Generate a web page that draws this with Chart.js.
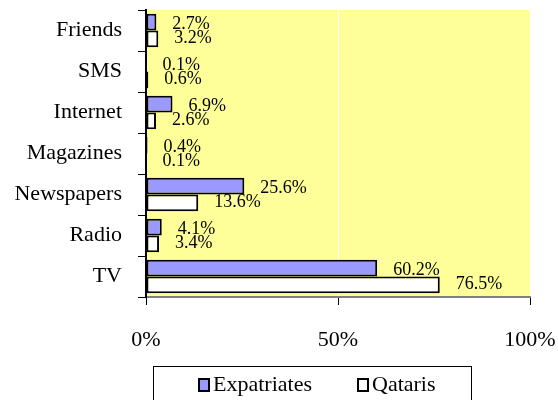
<!DOCTYPE html>
<html>
<head>
<meta charset="utf-8">
<script src="https://cdn.jsdelivr.net/npm/chart.js@4/dist/chart.umd.min.js"></script>
<style>
  body { margin: 0; background: #fff; overflow: hidden; }
  #wrap { position: relative; width: 558px; height: 400px; }
  #legend {
    position: absolute; left: 153px; top: 366px; width: 319px; height: 40px;
    border: 1px solid #000; box-sizing: border-box;
    font-family: "Liberation Serif", "Times New Roman", serif; font-size: 22px; color: #000;
  }
  #legend span.item { position: absolute; top: 4px; white-space: nowrap; }
  #legend span.box {
    display: inline-block; width: 8px; height: 10px; border: 2px solid #000;
    margin-right: 3px; vertical-align: -1px;
  }
</style>
</head>
<body>
<div id="wrap">
  <canvas id="myChart"></canvas>
  <div id="legend"></div>
</div>
<script>
var categories = ["Friends", "SMS", "Internet", "Magazines", "Newspapers", "Radio", "TV"];
var expatriates = [2.7, 0.1, 6.9, 0.4, 25.6, 4.1, 60.2];
var qataris = [3.2, 0.6, 2.6, 0.1, 13.6, 3.4, 76.5];
var xTicks = [0, 50, 100];

var seriesNames = ["Expatriates", "Qataris"];
var seriesColors = ["#9999FF", "#FFFFFF"];

var font = "'Liberation Serif', 'Times New Roman', serif";

// yellow plot area
var plotBg = {
  id: 'plotBg',
  beforeDraw: function(chart) {
    var a = chart.chartArea, ctx = chart.ctx;
    ctx.save();
    ctx.fillStyle = '#FFFF99';
    ctx.fillRect(a.left, a.top, a.right - a.left, a.bottom - a.top);
    ctx.restore();
  }
};

// value labels just past the end of each bar
var valueLabels = {
  id: 'valueLabels',
  afterDatasetsDraw: function(chart) {
    var ctx = chart.ctx;
    ctx.save();
    ctx.font = '18px ' + font;
    ctx.fillStyle = '#000';
    ctx.textAlign = 'left';
    ctx.textBaseline = 'middle';
    chart.data.datasets.forEach(function(ds, i) {
      var meta = chart.getDatasetMeta(i);
      var dy = i === 0 ? 2 : -1;
      meta.data.forEach(function(bar, j) {
        ctx.fillText(ds.data[j].toFixed(1) + '%', bar.x + 16, bar.y + dy);
      });
    });
    ctx.restore();
  }
};

var ctx = document.getElementById("myChart");
var myBarChart = new Chart(ctx, {
  type: 'bar',
  data: {
    labels: categories,
    datasets: [
      {
        label: seriesNames[0],
        data: expatriates,
        backgroundColor: seriesColors[0],
        borderColor: '#000',
        borderWidth: 2,
        borderSkipped: false
      },
      {
        label: seriesNames[1],
        data: qataris,
        backgroundColor: seriesColors[1],
        borderColor: '#000',
        borderWidth: 2,
        borderSkipped: false
      }
    ]
  },
  options: {
    indexAxis: 'y',
    responsive: true,
    maintainAspectRatio: false,
    animation: false,
    categoryPercentage: 0.82,
    barPercentage: 1,
    layout: { padding: { left: 0, top: 10, right: 28, bottom: 43 } },
    plugins: {
      legend: { display: false },
      tooltip: { enabled: false }
    },
    scales: {
      x: {
        min: xTicks[0],
        max: xTicks[xTicks.length - 1],
        afterBuildTicks: function(scale) {
          scale.ticks = xTicks.map(function(v) { return { value: v }; });
        },
        afterFit: function(scale) {
          scale.height = 60;
          scale.paddingLeft = 0;
          scale.paddingRight = 0;
        },
        ticks: {
          color: '#000',
          font: { family: font, size: 22 },
          padding: 22,
          maxRotation: 0,
          callback: function(v) { return v + '%'; }
        },
        grid: {
          color: function(c) { return c.tick && c.tick.value === 50 ? '#FFFFFF' : 'rgba(0,0,0,0)'; },
          tickColor: '#000',
          tickLength: 8,
          lineWidth: 1
        },
        border: { display: true, color: '#808080', width: 2 }
      },
      y: {
        afterFit: function(scale) {
          scale.width = 146;
          scale.paddingTop = 0;
          scale.paddingBottom = 0;
        },
        ticks: {
          color: '#000',
          font: { family: font, size: 22 },
          padding: 16
        },
        grid: {
          offset: true,
          drawOnChartArea: false,
          tickColor: '#000',
          tickLength: 8,
          lineWidth: 1
        },
        border: { display: true, color: '#000', width: 2 }
      }
    }
  },
  plugins: [plotBg, valueLabels]
});

// legend box below the chart
var legendPos = [44, 203];
var legend = document.getElementById('legend');
seriesNames.forEach(function(name, i) {
  var item = document.createElement('span');
  item.className = 'item';
  item.style.left = legendPos[i] + 'px';
  item.innerHTML = '<span class="box" style="background:' + seriesColors[i] + '"></span>' + name;
  legend.appendChild(item);
});
</script>
</body>
</html>
